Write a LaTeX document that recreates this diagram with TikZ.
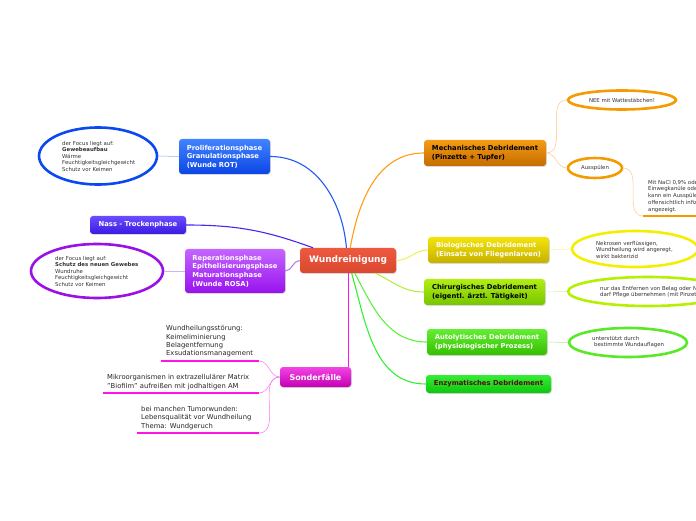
\documentclass[tikz,border=0pt]{standalone}
\usepackage{fontspec}
\setmainfont{DejaVu Sans}
\usetikzlibrary{shapes.geometric}
\usetikzlibrary{shadows}

\definecolor{wundA}{HTML}{EE5A40}
\definecolor{wundB}{HTML}{D9472F}
\definecolor{prolifA}{HTML}{4283FF}
\definecolor{prolifB}{HTML}{0B46E6}
\definecolor{nassA}{HTML}{6A4DFF}
\definecolor{nassB}{HTML}{3A1AE2}
\definecolor{reperA}{HTML}{C466FF}
\definecolor{reperB}{HTML}{9812EE}
\definecolor{sonderA}{HTML}{F244E4}
\definecolor{sonderB}{HTML}{C400B2}
\definecolor{mechA}{HTML}{F59C14}
\definecolor{mechB}{HTML}{C46C00}
\definecolor{bioA}{HTML}{F4E40A}
\definecolor{bioB}{HTML}{C6B000}
\definecolor{chirA}{HTML}{B2EE14}
\definecolor{chirB}{HTML}{76C600}
\definecolor{autoA}{HTML}{64EE34}
\definecolor{autoB}{HTML}{36BE00}
\definecolor{enzyA}{HTML}{34EE34}
\definecolor{enzyB}{HTML}{0EC60E}
\definecolor{enzyText}{HTML}{5A0A1A}
\definecolor{blueLine}{HTML}{2458F0}
\definecolor{nassLine}{HTML}{4A26EC}
\definecolor{reperLine}{HTML}{B77CEE}
\definecolor{magLine}{HTML}{FF14E6}
\definecolor{orangeLine}{HTML}{FF9C18}
\definecolor{yellowLine}{HTML}{F2F060}
\definecolor{limeLine}{HTML}{B4F040}
\definecolor{greenLine}{HTML}{5CF040}
\definecolor{enzyLine}{HTML}{34F034}
\definecolor{blueRing}{HTML}{0A48F0}
\definecolor{purpleRing}{HTML}{9A10E8}
\definecolor{orangeRing}{HTML}{F59A00}
\definecolor{yellowRing}{HTML}{F4EE00}
\definecolor{limeRing}{HTML}{B6F000}
\definecolor{greenRing}{HTML}{5AE828}

\tikzset{
  topic/.style={rectangle,rounded corners=3pt,inner sep=0pt,align=left,
    font=\bfseries\fontsize{6.8}{8.6}\selectfont,
    drop shadow={opacity=0.3,shadow xshift=0.8pt,shadow yshift=-0.9pt}},
  note/.style={ellipse,inner sep=0pt,line width=2.6pt,fill=white},
  notetext/.style={font=\fontsize{5.4}{6.5}\selectfont,align=left,text=black!80,inner sep=0pt},
  leaftext/.style={font=\fontsize{6.8}{8.4}\selectfont,align=left,text=black!85,inner sep=0pt},
  branch/.style={line width=1.1pt},
  twig/.style={line width=0.5pt},
  leafline/.style={line width=1.8pt},
}

\begin{document}
\begin{tikzpicture}[x=1pt,y=1pt]
\useasboundingbox (0,0) rectangle (696,520);
\clip (0,0) rectangle (696,520);

% Zentrum
\node[topic,minimum width=96pt,minimum height=25pt,top color=wundA,bottom color=wundB,text=white,font=\bfseries\fontsize{9}{11}\selectfont] (wund) at (348,259.5) {Wundreinigung};

% linke Seite
\node[topic,minimum width=91pt,minimum height=35pt,top color=prolifA,bottom color=prolifB,text=white] (prolif) at (224.5,363.5) {Proliferationsphase\\Granulationsphase\\(Wunde ROT)};
\node[topic,minimum width=96pt,minimum height=18pt,top color=nassA,bottom color=nassB,text=white] (nass) at (138,295) {Nass - Trockenphase};
\node[topic,minimum width=100pt,minimum height=44pt,top color=reperA,bottom color=reperB,text=white] (reper) at (235,249) {Reperationsphase\\Epithelisierungsphase\\Maturationsphase\\(Wunde ROSA)};
\node[topic,minimum width=71pt,minimum height=20pt,top color=sonderA,bottom color=sonderB,text=white,font=\bfseries\fontsize{8}{10}\selectfont] (sonder) at (315.5,143) {Sonderfälle};

\node[note,draw=blueRing,minimum width=118pt,minimum height=57pt] (eprolif) at (98,364) {};
\node[notetext,anchor=west] (tprolif) at (62,364) {der Focus liegt auf:\\\textbf{Gewebeaufbau}\\Wärme\\Feuchtigkeitsgleichgewicht\\Schutz vor Keimen};
\node[note,draw=purpleRing,minimum width=132pt,minimum height=54pt] (ereper) at (97,249) {};
\node[notetext,anchor=west] (treper) at (55,249) {der Focus liegt auf:\\\textbf{Schutz des neuen Gewebes}\\Wundruhe\\Feuchtigkeitsgleichgewicht\\Schutz vor Keimen};

% Sonderfälle
\coordinate (s1a) at (161,159); \coordinate (s1b) at (259,159);
\coordinate (s2a) at (103,127); \coordinate (s2b) at (259,127);
\coordinate (s3a) at (137,87);  \coordinate (s3b) at (259,87);
\node[leaftext,anchor=south west] (s1) at (166,162.5) {Wundheilungsstörung:\\Keimeliminierung\\Belagentfernung\\Exsudationsmanagement};
\node[leaftext,anchor=south west] (s2) at (107,130) {Mikroorganismen in extrazellulärer Matrix\\"Biofilm" aufreißen mit jodhaltigen AM};
\node[leaftext,anchor=south west] (s3) at (141,90) {bei manchen Tumorwunden:\\Lebensqualität vor Wundheilung\\Thema: Wundgeruch};
\draw[leafline,magLine] (s1a) -- (s1b);
\draw[leafline,magLine] (s2a) -- (s2b);
\draw[leafline,magLine] (s3a) -- (s3b);
\draw[twig,magLine!60] (sonder.west) to[out=180,in=0] (s1b);
\draw[twig,magLine!60] (sonder.west) to[out=180,in=0] (s2b);
\draw[twig,magLine!60] (sonder.west) to[out=180,in=0] (s3b);

% rechte Seite
\node[topic,minimum width=122pt,minimum height=26pt,top color=mechA,bottom color=mechB,text=black] (mech) at (485,367) {Mechanisches Debridement\\(Pinzette + Tupfer)};
\node[topic,minimum width=121pt,minimum height=26pt,top color=bioA,bottom color=bioB,text=white] (bio) at (488.5,270) {Biologisches Debridement\\(Einsatz von Fliegenlarven)};
\node[topic,minimum width=121pt,minimum height=26pt,top color=chirA,bottom color=chirB,text=black] (chir) at (484.5,228) {Chirurgisches Debridement\\(eigentl. ärztl. Tätigkeit)};
\node[topic,minimum width=120pt,minimum height=26pt,top color=autoA,bottom color=autoB,text=white] (auto) at (487,178) {Autolytisches Debridement\\(physiologischer Prozess)};
\node[topic,minimum width=125pt,minimum height=18pt,top color=enzyA,bottom color=enzyB,text=enzyText] (enzy) at (488.5,136) {Enzymatisches Debridement};

\node[note,draw=orangeRing,minimum width=108pt,minimum height=19pt] (enee) at (622,420) {};
\node[notetext] (tnee) at (622,420) {NEE mit Wattestäbchen!};
\node[note,draw=orangeRing,minimum width=54pt,minimum height=20pt] (eaus) at (595,352) {};
\node[notetext] (taus) at (595,352) {Ausspülen};
\coordinate (nacla) at (643,304); \coordinate (naclb) at (700,304);
\node[notetext,anchor=south west,font=\fontsize{5.4}{6.9}\selectfont] (tnacl) at (648,307) {Mit NaCl 0,9\% oder Ringer\\Einwegkanüle oder Spritze\\kann ein Ausspülen bei\\offensichtlich infizierten Wunden\\angezeigt.};
\draw[leafline,orangeRing] (nacla) -- (naclb);

\node[note,draw=yellowRing,minimum width=126pt,minimum height=36pt] (ebio) at (635,271) {};
\node[notetext,anchor=west] (tbio) at (596,270.5) {Nekrosen verflüssigen,\\Wundheilung wird angeregt,\\wirkt bakterizid};
\node[note,draw=limeRing,minimum width=160pt,minimum height=29pt] (echir) at (648,228.5) {};
\node[notetext,anchor=west] (tchir) at (600,228) {nur das Entfernen von Belag oder Nekrosen\\darf Pflege übernehmen (mit Pinzette)};
\node[note,draw=greenRing,minimum width=118pt,minimum height=29pt] (eauto) at (628,177.5) {};
\node[notetext,anchor=west] (tauto) at (592,178) {unterstützt durch\\\hspace*{2pt}bestimmte Wundauflagen};

% Verbindungen
\draw[branch,blueLine] (wund.97) to[out=95,in=0] (prolif.east);
\draw[branch,nassLine] (wund.160) to[out=160,in=0] (nass.east);
\draw[branch,reperLine] (wund.west) to[out=180,in=0] (reper.east);
\draw[branch,magLine] (wund.-89) -- (wund.-89 |- sonder.north);
\draw[branch,orangeLine] (wund.80) to[out=80,in=180] (mech.west);
\draw[branch,yellowLine] (wund.east) to[out=0,in=180] (bio.west);
\draw[branch,limeLine] (wund.-25) to[out=-25,in=180] (chir.west);
\draw[branch,greenLine] (wund.-62) to[out=-62,in=180] (auto.west);
\draw[branch,enzyLine] (wund.-74) to[out=-74,in=180] (enzy.west);

\draw[twig,blueLine!50] (prolif.west) -- (eprolif.east);
\draw[twig,reperLine!60] (reper.west) -- (ereper.east);
\draw[twig,orangeLine!55] (mech.east) to[out=0,in=180] (enee.west);
\draw[twig,orangeLine!55] (mech.east) to[out=0,in=180] (eaus.west);
\draw[twig,orangeLine!55] (eaus.east) to[out=0,in=180] (nacla);
\draw[twig,yellowLine!70] (bio.east) -- (ebio.west);
\draw[twig,limeLine!60] (chir.east) -- (echir.west);
\draw[twig,greenLine!60] (auto.east) -- (eauto.west);

\end{tikzpicture}
\end{document}
